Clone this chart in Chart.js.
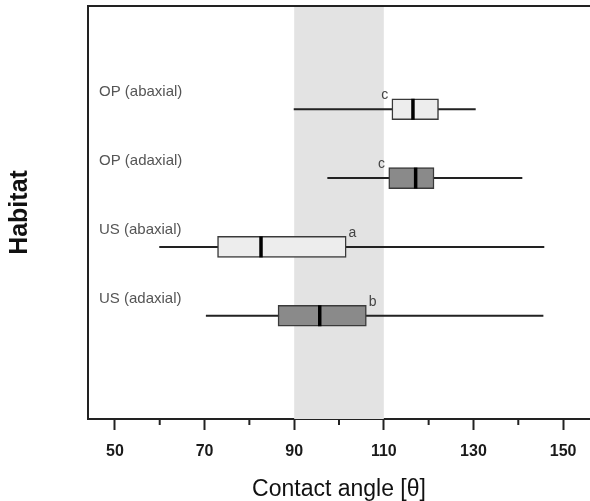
<!DOCTYPE html>
<html>
<head>
<meta charset="utf-8">
<script src="https://cdn.jsdelivr.net/npm/chart.js@4/dist/chart.umd.min.js"></script>
<style>
  html, body { margin: 0; padding: 0; background: #fff; }
  #wrap { width: 590px; height: 501px; position: relative; }
</style>
</head>
<body>
<div id="wrap"><canvas id="grafico"></canvas></div>
<script>
const categories = ["US (adaxial)", "US (abaxial)", "OP (adaxial)", "OP (abaxial)"];
const positions = [1, 2, 3, 4];
const whiskerMin = [70.3, 59.9, 97.4, 89.9];
const whiskerMax = [145.6, 145.8, 140.9, 130.5];
const q1 = [86.4, 72.9, 111.1, 111.8];
const q3 = [106.1, 101.6, 121.2, 122.2];
const medians = [95.7, 82.6, 117.1, 116.5];
const letters = ["b", "a", "c", "c"];
const letterX = [107.5, 103, 109.5, 110.2];
const boxColors = ["#8a8a8a", "#ededed", "#8a8a8a", "#ededed"];
const shadeRange = [90, 110];
const majorTicks = [50, 70, 90, 110, 130, 150];
const minorTicks = [60, 80, 100, 120, 140];

const FONT = "'Liberation Sans', Arial, sans-serif";

// whiskers: one line dataset, gaps between categories
const whiskerData = [];
positions.forEach((p, i) => {
  whiskerData.push({ x: whiskerMin[i], y: p });
  whiskerData.push({ x: whiskerMax[i], y: p });
  whiskerData.push({ x: null, y: null });
});

const extras = {
  id: "extras",
  beforeDatasetsDraw(chart) {
    const { ctx, chartArea, scales } = chart;
    const x0 = scales.x.getPixelForValue(shadeRange[0]);
    const x1 = scales.x.getPixelForValue(shadeRange[1]);
    ctx.save();
    ctx.fillStyle = "#e3e3e3";
    ctx.fillRect(x0, chartArea.top, x1 - x0, chartArea.bottom - chartArea.top);
    ctx.restore();
  },
  afterDatasetsDraw(chart) {
    const { ctx, chartArea, scales } = chart;
    ctx.save();
    ctx.textBaseline = "middle";
    // category labels
    ctx.fillStyle = "#555";
    ctx.font = "15px " + FONT;
    ctx.textAlign = "left";
    categories.forEach((c, i) => {
      ctx.fillText(c, chartArea.left + 11, scales.y.getPixelForValue(positions[i]) - 17);
    });
    // group letters
    ctx.fillStyle = "#444";
    ctx.font = "14px " + FONT;
    ctx.textAlign = "center";
    letters.forEach((l, i) => {
      ctx.fillText(l, scales.x.getPixelForValue(letterX[i]), scales.y.getPixelForValue(positions[i]) - 14);
    });
    ctx.restore();
  },
  afterDraw(chart) {
    const { ctx, chartArea, scales } = chart;
    ctx.save();
    ctx.strokeStyle = "#222";
    ctx.lineWidth = 2;
    // top frame line
    ctx.beginPath();
    ctx.moveTo(chartArea.left - 1, chartArea.top);
    ctx.lineTo(chartArea.right, chartArea.top);
    ctx.stroke();
    // minor ticks
    minorTicks.forEach(v => {
      const x = scales.x.getPixelForValue(v);
      ctx.beginPath();
      ctx.moveTo(x, chartArea.bottom);
      ctx.lineTo(x, chartArea.bottom + 6);
      ctx.stroke();
    });
    ctx.restore();
  }
};

new Chart(document.getElementById("grafico"), {
  type: "bar",
  data: {
    datasets: [
      {
        type: "line",
        data: whiskerData,
        borderColor: "#222",
        borderWidth: 2,
        pointRadius: 0,
        spanGaps: false,
        order: 3
      },
      {
        type: "bar",
        data: positions.map((p, i) => ({ x: [q1[i], q3[i]], y: p })),
        backgroundColor: boxColors,
        borderColor: "#3a3a3a",
        borderWidth: 1.5,
        borderSkipped: false,
        barThickness: 21,
        order: 2
      },
      {
        type: "line",
        data: positions.map((p, i) => ({ x: medians[i], y: p })),
        showLine: false,
        pointStyle: "line",
        rotation: 90,
        pointRadius: 10.5,
        borderColor: "#000",
        borderWidth: 3.5,
        order: 1
      }
    ]
  },
  options: {
    indexAxis: "y",
    responsive: true,
    maintainAspectRatio: false,
    animation: false,
    layout: { autoPadding: false, padding: { top: 6, right: 0, left: 0, bottom: 0 } },
    plugins: {
      legend: { display: false },
      tooltip: { enabled: false }
    },
    scales: {
      x: {
        type: "linear",
        min: 44,
        max: 156,
        afterFit: s => { s.height = 82; },
        ticks: {
          stepSize: 10,
          includeBounds: false,
          autoSkip: false,
          maxRotation: 0,
          padding: 12,
          color: "#1a1a1a",
          font: { family: FONT, size: 16, weight: "bold" },
          callback: v => (majorTicks.includes(v) ? String(v) : "")
        },
        grid: {
          drawOnChartArea: false,
          tickLength: 11,
          tickWidth: 2,
          tickColor: c => (majorTicks.includes(c.tick.value) ? "#222" : "rgba(0,0,0,0)")
        },
        border: { color: "#222", width: 2 },
        title: {
          display: true,
          text: "Contact angle [θ]",
          color: "#111",
          font: { family: FONT, size: 23, lineHeight: 1 },
          padding: { top: 0, bottom: 0 }
        }
      },
      y: {
        type: "linear",
        min: -0.5,
        max: 5.5,
        offset: false,
        afterFit: s => { s.width = 88; },
        ticks: { display: false },
        grid: { display: false },
        border: { color: "#222", width: 2 },
        title: {
          display: true,
          text: "Habitat",
          color: "#111",
          font: { family: FONT, size: 25, weight: "bold", lineHeight: 1 },
          padding: { top: 8, bottom: 0 }
        }
      }
    }
  },
  plugins: [extras]
});
</script>
</body>
</html>
